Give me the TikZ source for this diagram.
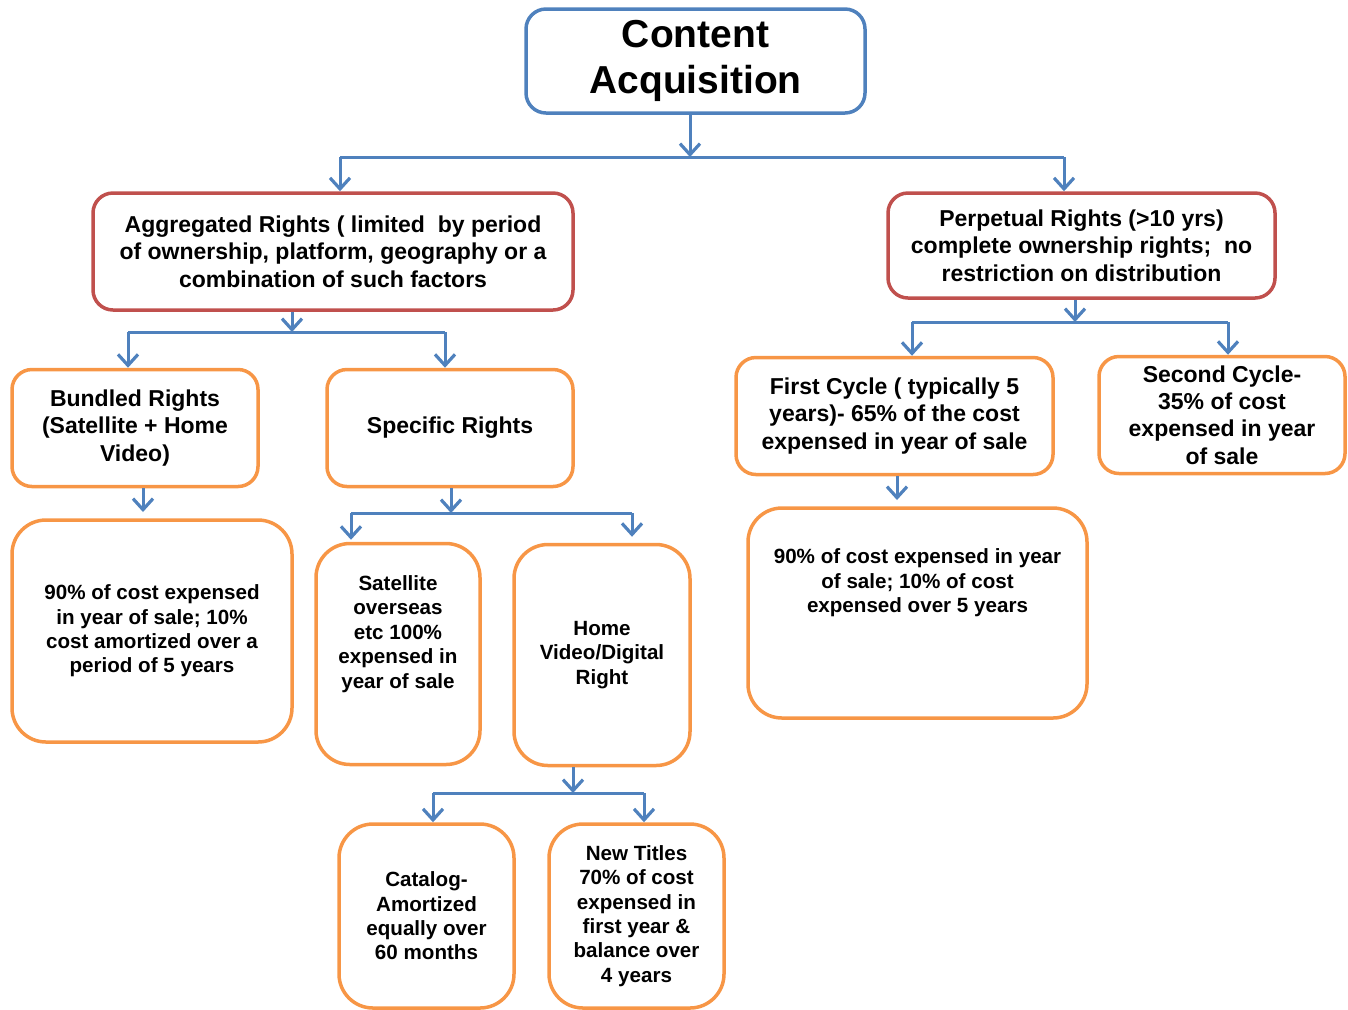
\documentclass[tikz,border=0pt]{standalone}
\usepackage{fontspec}
\setmainfont{Liberation Sans}
\usetikzlibrary{arrows.meta}
\definecolor{linkblue}{RGB}{79,129,189}
\definecolor{rightsred}{RGB}{192,80,77}
\definecolor{cycleorange}{RGB}{247,150,70}

\begin{document}
\begin{tikzpicture}[x=0.5pt,y=-0.5pt,
    box/.style={draw, line width=1.75pt, rounded corners=10pt, align=center, inner sep=2pt,
      font=\bfseries\fontsize{11.5}{13.7}\selectfont},
    titlebox/.style={box, draw=linkblue, font=\bfseries\fontsize{19.5}{23}\selectfont},
    rightsbox/.style={box, draw=rightsred},
    cyclebox/.style={box, draw=cycleorange},
    notebox/.style={box, draw=cycleorange, rounded corners=17pt, font=\bfseries\fontsize{10.3}{12.2}\selectfont},
    notetext/.style={align=center, inner sep=0pt, font=\bfseries\fontsize{10.3}{12.2}\selectfont},
    wire/.style={draw=linkblue, line width=1.5pt},
    link/.style={wire, -{Straight Barb[length=5.5pt,width=10pt,line width=1.6pt]}}]
\useasboundingbox (0,0) rectangle (1348,1009);

\node[titlebox, minimum width=169.5pt, minimum height=52pt] (top) at (695.5,61) {Content\\Acquisition};
\node[rightsbox, minimum width=240pt, minimum height=58.5pt] (agg) at (333,251.5)
  {Aggregated Rights ( limited\ \ by period\\of ownership, platform, geography or a\\combination of such factors};
\node[rightsbox, minimum width=193.5pt, minimum height=52.5pt] (perp) at (1081.5,245.5)
  {Perpetual Rights (>10 yrs)\\complete ownership rights;\ \ no\\restriction on distribution};
\node[cyclebox, minimum width=123pt, minimum height=58.5pt] (bundled) at (135,428) {Bundled Rights\\(Satellite + Home\\Video)};
\node[cyclebox, minimum width=123pt, minimum height=58.5pt] (specific) at (450,428) {Specific Rights};
\node[cyclebox, minimum width=158.5pt, minimum height=58.5pt] (first) at (894.5,416)
  {First Cycle ( typically 5\\years)- 65\% of the cost\\expensed in year of sale};
\node[cyclebox, minimum width=123pt, minimum height=58.5pt] (second) at (1222,415)
  {Second Cycle-\\35\% of cost\\expensed in year\\of sale};
\node[notebox, minimum width=140pt, minimum height=111pt] (bundlednote) at (152,631)
  {90\% of cost expensed\\in year of sale; 10\%\\cost amortized over a\\period of 5 years};
\node[notebox, minimum width=82pt, minimum height=110.5pt] (satellite) at (398,654)
  {Satellite\\overseas\\etc 100\%\\expensed in\\year of sale\\[10pt]};
\node[notebox, minimum width=88pt, minimum height=110.5pt] (homevideo) at (602,655) {Home\\Video/Digital\\Right};
\node[notebox, minimum width=169.5pt, minimum height=105pt] (firstnote) at (917.5,613) {};
\node[notetext] (firstnotetext) at (917.5,583) {90\% of cost expensed in year\\of sale; 10\% of cost\\expensed over 5 years};
\node[notebox, minimum width=87.5pt, minimum height=92pt] (catalog) at (426.5,916)
  {Catalog-\\Amortized\\equally over\\60 months};
\node[notebox, minimum width=87.5pt, minimum height=92pt] (newtitles) at (636.5,916)
  {New Titles\\70\% of cost\\expensed in\\first year \&\\balance over\\4 years};

\coordinate (topbar) at (690,157);
\coordinate (topbarL) at (340,157);
\coordinate (topbarR) at (1064,157);
\draw[link] (top.south -| topbar) -- (topbar);
\draw[wire] (topbarL) -- (topbarR);
\draw[link] (topbarL) -- (topbarL |- agg.north);
\draw[link] (topbarR) -- (topbarR |- perp.north);

\coordinate (aggbar) at (292,332);
\coordinate (aggbarL) at (128,332);
\coordinate (aggbarR) at (445,332);
\draw[link] (agg.south -| aggbar) -- (aggbar);
\draw[wire] (aggbarL) -- (aggbarR);
\draw[link] (aggbarL) -- (aggbarL |- bundled.north);
\draw[link] (aggbarR) -- (aggbarR |- specific.north);

\coordinate (perpbar) at (1075,322);
\coordinate (perpbarL) at (912,322);
\coordinate (perpbarR) at (1228,322);
\draw[link] (perp.south -| perpbar) -- (perpbar);
\draw[wire] (perpbarL) -- (perpbarR);
\draw[link] (perpbarL) -- (perpbarL |- first.north);
\draw[link] (perpbarR) -- (perpbarR |- second.north);

\coordinate (bundledarrow) at (143,512);
\draw[link] (bundled.south -| bundledarrow) -- (bundledarrow);

\coordinate (specbar) at (451,513);
\coordinate (specbarL) at (351,513);
\coordinate (specbarR) at (632,513);
\draw[link] (specific.south -| specbar) -- (specbar);
\draw[wire] (specbarL) -- (specbarR);
\draw[link, shorten >=1pt] (specbarL) -- (specbarL |- satellite.north);
\draw[link, shorten >=3pt] (specbarR) -- (specbarR |- homevideo.north);

\coordinate (firstarrow) at (897,500);
\draw[link] (first.south -| firstarrow) -- (firstarrow);

\coordinate (hvbar) at (573,793);
\coordinate (hvbarL) at (433,793);
\coordinate (hvbarR) at (644,793);
\draw[link] (homevideo.south -| hvbar) -- (hvbar);
\draw[wire] (hvbarL) -- (hvbarR);
\draw[link] (hvbarL) -- (hvbarL |- catalog.north);
\draw[link] (hvbarR) -- (hvbarR |- newtitles.north);
\end{tikzpicture}
\end{document}
